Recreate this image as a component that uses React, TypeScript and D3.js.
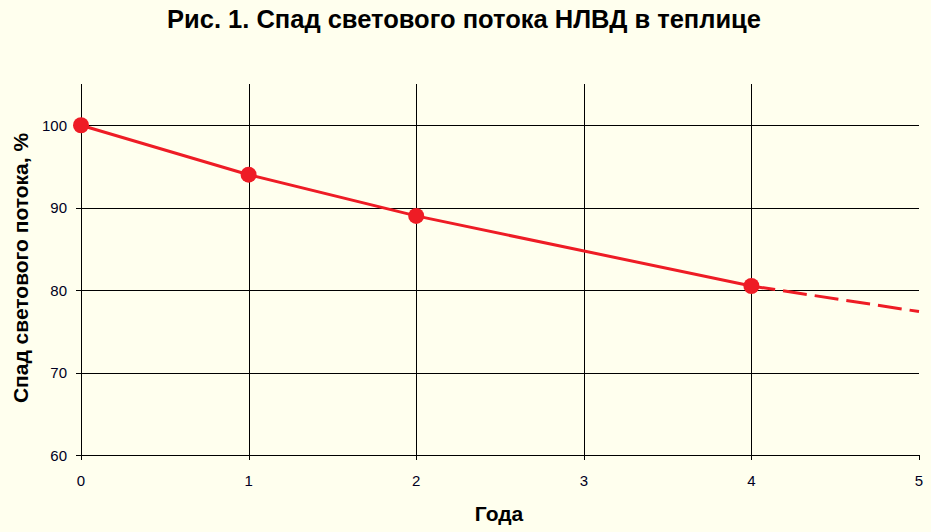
import React, { useEffect, useRef } from 'react';
import * as d3 from 'd3';

// measured points (marker shown)
const years = [0, 1, 2, 4];
const flux = [100, 94, 89, 80.5];
// forecast, dashed
const forecastYears = [4, 5];
const forecastFlux = [80.5, 77.4];

const xTicks = [0, 1, 2, 3, 4, 5];
const yTicks = [60, 70, 80, 90, 100];

const title = 'Рис. 1. Спад светового потока НЛВД в теплице';
const xTitle = 'Года';
const yTitle = 'Спад светового потока, %';

const W = 931;
const H = 532;

const App: React.FC = () => {
    const svgRef = useRef<SVGSVGElement | null>(null);

    useEffect(() => {
        document.body.style.margin = '0';
        const svg = d3.select(svgRef.current);
        svg.selectAll('*').remove();

        const margin = { top: 84, right: 12, bottom: 77, left: 81 };
        const font = 'Arial, "Liberation Sans", sans-serif';

        svg.append('rect').attr('width', W).attr('height', H).attr('fill', '#FFFFEE');

        const x = d3.scaleLinear().domain([0, 5]).range([margin.left, W - margin.right]);
        const y = d3.scaleLinear().domain([60, 105]).range([H - margin.bottom, margin.top]);

        // horizontal grid
        svg.append('g')
            .selectAll('line')
            .data(yTicks)
            .enter()
            .append('line')
            .attr('x1', x(0) - 5)
            .attr('x2', x(5))
            .attr('y1', d => Math.round(y(d)) + 0.5)
            .attr('y2', d => Math.round(y(d)) + 0.5)
            .attr('stroke', '#000')
            .attr('stroke-width', 1);

        // vertical grid (year 0 acts as axis)
        svg.append('g')
            .selectAll('line')
            .data(xTicks.filter(d => d < 5))
            .enter()
            .append('line')
            .attr('x1', d => Math.round(x(d)) + 0.5)
            .attr('x2', d => Math.round(x(d)) + 0.5)
            .attr('y1', y(105))
            .attr('y2', y(60) + 5)
            .attr('stroke', '#000')
            .attr('stroke-width', 1);

        // tick at 5
        svg.append('line')
            .attr('x1', Math.round(x(5)) + 0.5)
            .attr('x2', Math.round(x(5)) + 0.5)
            .attr('y1', y(60))
            .attr('y2', y(60) + 5)
            .attr('stroke', '#000');

        // tick labels
        svg.append('g')
            .selectAll('text')
            .data(yTicks)
            .enter()
            .append('text')
            .attr('x', x(0) - 14)
            .attr('y', d => y(d) + 5.5)
            .attr('text-anchor', 'end')
            .attr('font-family', font)
            .attr('font-size', 15)
            .attr('fill', '#000022')
            .text(d => d);

        svg.append('g')
            .selectAll('text')
            .data(xTicks)
            .enter()
            .append('text')
            .attr('x', d => x(d))
            .attr('y', y(60) + 31)
            .attr('text-anchor', 'middle')
            .attr('font-family', font)
            .attr('font-size', 15)
            .attr('fill', '#000022')
            .text(d => d);

        const line = d3.line<[number, number]>()
            .x(d => x(d[0]))
            .y(d => y(d[1]));

        svg.append('path')
            .attr('d', line(years.map((v, i) => [v, flux[i]] as [number, number])))
            .attr('fill', 'none')
            .attr('stroke', '#EE1C25')
            .attr('stroke-width', 3);

        svg.append('path')
            .attr('d', line(forecastYears.map((v, i) => [v, forecastFlux[i]] as [number, number])))
            .attr('fill', 'none')
            .attr('stroke', '#EE1C25')
            .attr('stroke-width', 3)
            .attr('stroke-dasharray', '24 8');

        svg.append('g')
            .selectAll('circle')
            .data(years.map((v, i) => ({ v, f: flux[i] })))
            .enter()
            .append('circle')
            .attr('cx', d => x(d.v))
            .attr('cy', d => y(d.f))
            .attr('r', 8)
            .attr('fill', '#EE1C25');

        svg.append('text')
            .attr('x', 464)
            .attr('y', 28)
            .attr('text-anchor', 'middle')
            .attr('font-family', font)
            .attr('font-weight', 'bold')
            .attr('font-size', 25.5)
            .attr('fill', '#000')
            .text(title);

        svg.append('text')
            .attr('x', 499)
            .attr('y', 521)
            .attr('text-anchor', 'middle')
            .attr('font-family', font)
            .attr('font-weight', 'bold')
            .attr('font-size', 21)
            .attr('fill', '#000')
            .text(xTitle);

        svg.append('text')
            .attr('transform', 'translate(28,268) rotate(-90)')
            .attr('text-anchor', 'middle')
            .attr('font-family', font)
            .attr('font-weight', 'bold')
            .attr('font-size', 21)
            .attr('fill', '#000')
            .text(yTitle);
    }, []);

    return <svg ref={svgRef} width={W} height={H} style={{ display: 'block' }}></svg>;
};

export default App;
